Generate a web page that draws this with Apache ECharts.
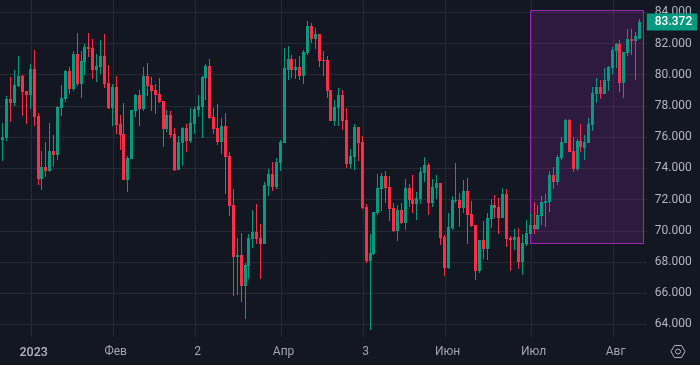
<!DOCTYPE html>
<html>
<head>
<meta charset="utf-8">
<style>
  html, body { margin: 0; padding: 0; background: #131722; }
  #main { width: 700px; height: 365px; }
</style>
<script src="https://cdn.jsdelivr.net/npm/echarts@6/dist/echarts.min.js"></script>
</head>
<body>
<div id="main"></div>
<script>
const opens = [
  74.53,75.82,75.94,78.44,78.21,79.28,79.92,78.96,78.70,80.37,
  77.35,73.32,74.08,73.83,75.11,74.85,77.87,78.44,80.24,79.08,
  81.33,79.41,80.82,81.78,81.71,80.30,80.50,81.20,79.47,77.87,
  79.21,76.84,76.20,73.25,74.60,77.67,78.70,77.80,79.92,79.34,
  79.02,78.76,78.32,76.52,77.42,76.20,73.89,75.62,76.58,75.75,
  76.84,77.74,77.93,79.79,80.56,77.29,76.58,75.69,76.71,74.79,
  71.65,68.32,68.44,66.46,67.74,69.47,69.92,69.53,69.15,72.87,
  73.64,72.80,74.34,75.62,80.30,81.01,80.30,80.50,79.92,81.39,
  83.12,82.29,82.61,80.94,80.94,79.02,77.03,77.87,78.70,77.10,
  74.28,74.73,76.65,75.69,71.52,68.06,68.51,71.14,72.67,73.51,
  72.80,71.46,69.98,71.33,70.49,72.74,72.03,71.71,72.03,73.70,
  74.21,71.78,72.74,73.06,69.60,67.61,70.17,71.90,71.97,71.46,
  72.55,71.07,70.37,67.42,69.40,68.83,70.75,71.65,71.52,70.82,
  72.35,69.53,69.40,69.60,67.99,69.15,69.79,70.37,70.11,70.94,
  71.78,71.84,73.57,73.12,74.66,75.62,77.10,75.11,73.96,75.75,
  75.30,75.62,76.78,78.76,79.21,78.76,79.60,80.43,81.52,81.97,
  79.47,81.39,82.29,82.16,82.29
];
const closes = [
  75.82,75.99,78.44,78.21,79.34,79.92,78.89,78.70,80.37,77.29,
  73.32,74.08,73.83,75.11,74.85,77.93,78.51,80.24,79.08,81.33,
  79.41,80.88,81.78,81.65,80.30,80.56,81.20,79.41,77.87,79.21,
  76.78,76.14,73.25,74.66,77.74,78.70,77.80,79.92,79.28,78.96,
  78.70,78.25,76.52,77.42,76.14,73.89,75.69,76.58,75.75,76.91,
  77.80,78.00,79.85,80.56,77.23,76.52,75.69,76.71,74.73,71.58,
  68.32,68.44,66.46,67.80,69.53,69.92,69.47,69.15,72.93,73.64,
  72.80,74.40,75.69,80.43,81.01,80.30,80.50,79.92,81.46,83.12,
  82.29,82.61,80.88,80.88,78.96,77.03,77.93,78.70,77.03,74.28,
  74.79,76.65,75.62,71.46,68.06,68.57,71.20,72.74,73.51,72.74,
  71.39,69.98,71.33,70.49,72.74,71.97,71.71,72.10,73.76,74.21,
  71.78,72.80,73.06,69.53,67.61,70.24,71.97,71.97,71.46,72.55,
  71.01,70.30,67.42,69.40,68.83,70.82,71.65,71.46,70.82,72.35,
  69.47,69.40,69.60,67.99,69.21,69.85,70.37,70.11,71.01,71.84,
  71.90,73.57,73.12,74.73,75.69,77.10,75.05,73.96,75.75,75.37,
  75.69,76.84,78.83,79.21,78.76,79.66,80.50,81.58,81.97,79.47,
  81.46,82.29,82.16,82.48,83.372
];
const lows = [
  74.53,74.47,75.77,76.99,78.00,79.19,77.38,76.84,77.80,76.71,
  72.93,72.61,73.44,73.76,74.08,74.53,77.35,78.25,78.76,78.96,
  79.28,78.51,79.98,81.14,79.73,79.53,80.05,79.15,77.80,76.71,
  76.20,75.17,73.25,72.48,74.60,77.29,76.71,77.67,78.64,77.67,
  77.48,78.19,75.37,76.33,75.94,73.83,73.89,74.15,75.05,75.62,
  76.20,77.29,75.94,78.38,77.16,76.20,75.49,74.92,72.35,70.94,
  65.82,65.88,65.43,64.34,66.91,68.89,69.15,66.91,69.15,72.23,
  72.55,72.67,73.83,75.62,79.66,79.79,79.73,79.66,79.41,81.26,
  82.03,81.65,80.50,79.92,78.51,77.03,76.71,76.71,76.46,74.02,
  73.96,73.89,74.47,71.39,67.93,63.64,68.44,71.01,71.26,71.78,
  70.62,69.92,69.34,70.43,70.05,71.52,71.14,70.69,71.71,73.12,
  71.01,71.52,72.03,69.08,67.10,67.55,70.05,71.78,70.24,71.14,
  69.15,70.24,66.84,67.29,68.19,68.12,70.17,70.82,69.79,70.82,
  68.95,67.42,68.76,67.55,67.16,69.02,69.79,69.79,70.05,70.37,
  70.24,71.20,72.67,72.93,74.53,75.62,75.05,73.76,73.83,75.05,
  74.53,75.62,76.39,78.19,78.44,78.76,78.96,80.05,80.43,78.89,
  78.51,81.20,81.26,79.66,82.29
];
const highs = [
  75.82,76.88,78.64,79.83,80.30,81.20,79.98,78.96,80.69,81.58,
  77.55,75.11,75.69,76.91,76.14,78.00,79.34,80.30,80.50,81.52,
  82.67,81.52,81.97,82.67,82.29,81.33,82.23,82.61,80.62,79.41,
  79.92,77.42,78.19,74.79,77.74,78.76,79.02,80.50,80.75,79.85,
  79.41,79.79,78.32,77.74,77.67,76.58,76.07,76.63,76.84,77.87,
  77.93,78.70,79.92,80.69,81.01,77.87,78.12,77.23,77.55,75.02,
  72.65,69.53,69.85,67.93,69.79,71.33,71.71,70.43,73.12,73.96,
  74.40,74.66,75.82,81.71,81.84,81.26,81.01,81.20,81.58,83.44,
  83.32,83.00,82.61,81.52,81.20,79.02,78.38,79.15,79.02,77.87,
  75.24,76.84,76.65,76.07,71.71,69.79,71.20,73.64,73.70,73.83,
  73.51,71.78,71.65,71.78,73.32,73.00,73.57,72.48,74.08,74.73,
  74.34,73.32,73.57,73.06,69.73,71.14,72.23,74.34,72.42,73.25,
  73.38,71.90,70.37,69.40,70.62,71.14,72.03,72.29,72.10,72.74,
  72.67,69.66,70.11,70.17,69.79,70.69,71.14,71.84,71.65,72.23,
  72.35,73.83,74.08,74.85,76.01,77.16,77.16,76.01,75.88,76.84,
  76.14,77.23,79.21,79.79,79.66,80.43,80.56,81.78,82.03,82.23,
  81.46,82.93,82.93,82.74,83.57
];

// tick labels sit on the candle index where the period starts
const timeTickIndex = [9, 30, 51, 73, 94, 115, 137, 158];
const timeTickLabels = ['2023', 'Фев', '2', 'Апр', '3', 'Июн', 'Июл', 'Авг'];
const priceTicks = [64, 66, 68, 70, 72, 74, 76, 78, 80, 82, 84];
const lastPrice = 83.372;
const boxStartIndex = 136;
const boxEndIndex = 165;
const boxPrices = [84.13, 69.19];
const yMin = 63.19;
const yMax = 84.79;

const upColor = '#089981';
const downColor = '#fb2e46';
const bandWidth = 3.9055;
const bandCount = opens.length + 2;

const categories = new Array(bandCount).fill('');
timeTickIndex.forEach(function (idx, i) { categories[idx] = timeTickLabels[i]; });

const candleRows = opens.map(function (o, i) {
  return [i, o, closes[i], lows[i], highs[i]];
});

const isTimeTick = function (i) { return categories[i] !== ''; };

// candles are snapped to whole pixels, body 3px and wick 1px
function renderCandle(params, api) {
  const idx = api.value(0);
  const o = api.value(1);
  const c = api.value(2);
  const x = Math.round(api.coord([idx, o])[0]);
  const yO = Math.round(api.coord([idx, o])[1]);
  const yC = Math.round(api.coord([idx, c])[1]);
  const yL = Math.round(api.coord([idx, api.value(3)])[1]);
  const yH = Math.round(api.coord([idx, api.value(4)])[1]);
  const top = Math.min(yO, yC);
  const fill = c >= o ? upColor : downColor;
  return {
    type: 'group',
    children: [
      { type: 'rect', shape: { x: x, y: yH, width: 1, height: Math.max(1, yL - yH) }, style: { fill: fill } },
      { type: 'rect', shape: { x: x - 1, y: top, width: 3, height: Math.max(1, Math.abs(yO - yC)) }, style: { fill: fill } }
    ]
  };
}

function renderBox(params, api) {
  const a = api.coord([api.value(0), api.value(2)]);
  const b = api.coord([api.value(1), api.value(3)]);
  const x0 = Math.round(a[0]) + 0.5;
  const y0 = Math.round(a[1]) + 0.5;
  return {
    type: 'rect',
    shape: { x: x0, y: y0, width: Math.round(b[0]) + 0.5 - x0, height: Math.round(b[1]) + 0.5 - y0 },
    style: { fill: 'rgba(156,39,176,0.2)', stroke: '#9c27b0', lineWidth: 1 }
  };
}

const chart = echarts.init(document.getElementById('main'), undefined, { renderer: 'canvas' });
const hexR = 7;
chart.setOption({
  animation: false,
  backgroundColor: '#131722',
  textStyle: { fontFamily: 'Roboto' },
  grid: {
    left: -3.4528,
    top: 0,
    width: bandCount * bandWidth,
    height: 337,
    outerBoundsMode: 'none'
  },
  xAxis: {
    type: 'category',
    data: categories,
    boundaryGap: true,
    axisLine: { show: false },
    axisTick: { show: false, alignWithLabel: true, interval: isTimeTick },
    splitLine: { show: true, interval: isTimeTick, lineStyle: { color: '#262a34', width: 1 } },
    axisLabel: {
      interval: isTimeTick,
      hideOverlap: false,
      color: '#a3a6af',
      fontSize: 12,
      margin: 9,
      formatter: function (v) { return v === '2023' ? '{y|2023}' : v; },
      rich: { y: { color: '#b2b5be', fontSize: 12.5, fontWeight: 500, fontFamily: 'Roboto' } }
    }
  },
  yAxis: [
    {
      type: 'value',
      position: 'right',
      min: yMin,
      max: yMax,
      axisLine: { show: false },
      axisTick: { show: false, customValues: priceTicks },
      splitLine: { show: true, lineStyle: { color: '#262a34', width: 1 } },
      axisLabel: {
        customValues: priceTicks,
        color: '#b2b5be',
        fontSize: 12,
        margin: 6,
        padding: [4, 0, 0, 0],
        formatter: function (v) { return v.toFixed(3); }
      }
    },
    {
      type: 'value',
      position: 'right',
      z: 5,
      min: yMin,
      max: yMax,
      axisLine: { show: false },
      axisTick: { show: false, customValues: [lastPrice] },
      splitLine: { show: false },
      axisLabel: {
        customValues: [lastPrice],
        color: '#ffffff',
        fontSize: 12,
        fontWeight: 500,
        margin: -2,
        backgroundColor: upColor,
        padding: [3, 5, 2, 8],
        formatter: function (v) { return v.toFixed(3); }
      }
    }
  ],
  series: [
    {
      type: 'custom',
      name: 'box',
      z: 1,
      silent: true,
      renderItem: renderBox,
      encode: { x: [0, 1], y: [2, 3] },
      data: [[boxStartIndex, boxEndIndex, boxPrices[0], boxPrices[1]]]
    },
    {
      type: 'custom',
      name: 'candles',
      z: 2,
      renderItem: renderCandle,
      encode: { x: 0, y: [1, 2, 3, 4] },
      data: candleRows
    }
  ],
  graphic: [
    // covers the 2px of grid past the end of the gridlines
    { type: 'rect', left: 647, top: 0, z: 1, shape: { width: 3, height: 337 }, style: { fill: '#131722' } },
    {
      type: 'group',
      x: 678,
      y: 351.5,
      children: [
        {
          type: 'polygon',
          shape: {
            points: [0, 60, 120, 180, 240, 300].map(function (a) {
              const r = a * Math.PI / 180;
              return [hexR * Math.cos(r), hexR * Math.sin(r)];
            })
          },
          style: { fill: 'none', stroke: '#b2b5be', lineWidth: 1 }
        },
        { type: 'circle', shape: { r: 2.5 }, style: { fill: 'none', stroke: '#b2b5be', lineWidth: 1 } }
      ]
    }
  ]
});
</script>
</body>
</html>
